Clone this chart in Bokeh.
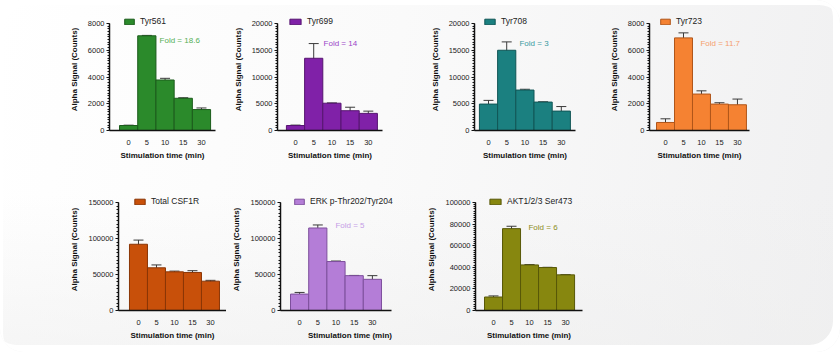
from bokeh.plotting import figure
from bokeh.models import (ColumnDataSource, Whisker, TeeHead, Label, Legend,
                          LegendItem, FixedTicker, NumeralTickFormatter, Range1d)
from bokeh.layouts import row, column
from bokeh.embed import file_html
from bokeh.resources import INLINE

# ---------------- data ----------------
times = ["0", "5", "10", "15", "30"]

tyr561_mean = [373, 7080, 3776, 2410, 1565]
tyr561_err = [25, 30, 125, 40, 120]

tyr699_mean = [930, 13500, 5100, 3700, 3200]
tyr699_err = [80, 2750, 60, 650, 420]

tyr708_mean = [4940, 15000, 7560, 5310, 3625]
tyr708_err = [690, 1560, 150, 60, 850]

tyr723_mean = [600, 6925, 2725, 1975, 1925]
tyr723_err = [275, 375, 240, 100, 425]

csf1r_mean = [92000, 59300, 53700, 52800, 40700]
csf1r_err = [5800, 4000, 1000, 2500, 1200]

erk_mean = [22800, 114600, 68000, 48400, 43300]
erk_err = [2300, 4200, 700, 300, 5100]

akt_mean = [12500, 75800, 42200, 39800, 33000]
akt_err = [1000, 2200, 300, 200, 200]

names = ["Tyr561", "Tyr699", "Tyr708", "Tyr723", "Total CSF1R",
         "ERK p-Thr202/Tyr204", "AKT1/2/3 Ser473"]
folds = ["Fold = 18.6", "Fold = 14", "Fold = 3", "Fold = 11.7", None,
         "Fold = 5", "Fold = 6"]
y_max = [8000, 20000, 20000, 8000, 150000, 150000, 100000]
y_step = [2000, 5000, 5000, 2000, 50000, 50000, 20000]

FONT = "Liberation Sans"


def make_panel(name, means, errs, fill, line, fold, fold_color, fold_xy,
               ymax, ystep, xr, x_end, width, height, borders, axis_h,
               leg_loc, glyph_w):
    bl, br, bt, bb = borders
    frame_h = height - bt - bb
    y_end = ymax * frame_h / axis_h  # headroom above the axis top for the legend
    p = figure(width=width, height=height, output_backend="svg",
               toolbar_location=None, tools="",
               x_range=Range1d(*xr), y_range=Range1d(0, y_end),
               min_border_left=bl, min_border_right=br,
               min_border_top=bt, min_border_bottom=bb,
               background_fill_color=None, border_fill_color=None,
               outline_line_color=None)
    p.grid.visible = False
    xs = list(range(len(times)))
    src = ColumnDataSource(dict(
        x=xs, top=means,
        upper=[m + e for m, e in zip(means, errs)],
        lower=[m - e for m, e in zip(means, errs)]))
    bars = p.vbar(x="x", top="top", width=1.0, source=src,
                  fill_color=fill, line_color=line, line_width=1)
    w = Whisker(base="x", upper="upper", lower="lower", source=src,
                line_color="#3a3a3a", line_width=1,
                upper_head=TeeHead(size=10, line_color="#3a3a3a", line_width=1),
                lower_head=TeeHead(size=10, line_color="#3a3a3a", line_width=1))
    p.add_layout(w)

    # y axis
    majors = list(range(0, ymax + 1, ystep))
    minors = [v * ystep / 10 for v in range(0, int(ymax / ystep * 10) + 1)]
    ya = p.yaxis[0]
    ya.bounds = (0, ymax)
    ya.ticker = FixedTicker(ticks=majors, minor_ticks=minors)
    ya.formatter = NumeralTickFormatter(format="0")
    ya.axis_label = "Alpha Signal (Counts)"
    ya.axis_label_text_font = FONT
    ya.axis_label_text_font_style = "bold"
    ya.axis_label_text_font_size = "8px"
    ya.axis_label_text_color = "#111111"
    ya.axis_label_standoff = 6
    ya.major_label_text_font = FONT
    ya.major_label_text_font_size = "7.5px"
    ya.major_label_text_color = "#222222"
    ya.major_label_standoff = 2
    ya.axis_line_color = "#111111"
    ya.axis_line_width = 1.5
    ya.major_tick_line_color = "#111111"
    ya.major_tick_out = 3
    ya.major_tick_in = 0
    ya.minor_tick_line_color = "#111111"
    ya.minor_tick_out = 2
    ya.minor_tick_in = 0

    # x axis
    xa = p.xaxis[0]
    xa.bounds = (xr[0], x_end)
    xa.ticker = FixedTicker(ticks=xs, minor_ticks=[])
    xa.major_label_overrides = {i: t for i, t in enumerate(times)}
    xa.axis_label = "Stimulation time (min)"
    xa.axis_label_text_font = FONT
    xa.axis_label_text_font_style = "bold"
    xa.axis_label_text_font_size = "8px"
    xa.axis_label_text_color = "#111111"
    xa.axis_label_standoff = 3
    xa.major_label_text_font = FONT
    xa.major_label_text_font_size = "7.5px"
    xa.major_label_text_color = "#222222"
    xa.major_label_standoff = 3
    xa.axis_line_color = "#111111"
    xa.axis_line_width = 1.5
    xa.major_tick_line_color = None
    xa.minor_tick_line_color = None

    leg = Legend(items=[LegendItem(label=name, renderers=[bars])],
                 location=leg_loc, padding=0, margin=0, spacing=0,
                 glyph_width=glyph_w, glyph_height=7, label_standoff=5,
                 label_height=10, label_width=10,
                 label_text_font=FONT, label_text_font_size="8.5px",
                 label_text_color="#222222",
                 background_fill_alpha=0, border_line_color=None)
    p.add_layout(leg)

    if fold:
        p.add_layout(Label(x=fold_xy[0], y=fold_xy[1], text=fold,
                           text_color=fold_color, text_font=FONT,
                           text_font_size="8px", text_baseline="middle"))
    return p


# row 1: frame top at y=8 px, axis top (ymax) at y=23 px, bottom at 130 px
p1 = make_panel(names[0], tyr561_mean, tyr561_err, "#2b8a2b", "#1c5c1c",
                folds[0], "#55b055", (1.7, 6730), y_max[0], y_step[0],
                (-1.05, 4.77), 4.77, 222, 175, (109, 7, 8, 45), 107, (14, 104), 12)
p2 = make_panel(names[1], tyr699_mean, tyr699_err, "#8021a8", "#561570",
                folds[1], "#9a45c8", (1.54, 16260), y_max[1], y_step[1],
                (-0.99, 4.78), 4.78, 197, 175, (55, 37, 8, 45), 107, (11, 104), 14)
p3 = make_panel(names[2], tyr708_mean, tyr708_err, "#1b8080", "#115656",
                folds[2], "#3a9a9f", (1.70, 16260), y_max[2], y_step[2],
                (-0.77, 4.78), 4.78, 175, 175, (55, 19, 8, 45), 107, (9, 104), 13)
p4 = make_panel(names[3], tyr723_mean, tyr723_err, "#f58232", "#b0561a",
                folds[3], "#f5a06c", (1.94, 6500), y_max[3], y_step[3],
                (-0.89, 4.67), 4.67, 246, 175, (55, 91, 8, 45), 107, (10, 104), 12)
# row 2: frame top at y=188 px, axis top at y=202 px, bottom at 310 px
p5 = make_panel(names[4], csf1r_mean, csf1r_err, "#c8500a", "#8a3606",
                folds[4], None, None, y_max[4], y_step[4],
                (-1.11, 4.89), 4.89, 226, 177, (118, 0, 13, 42), 108, (15, 104), 13)
p6 = make_panel(names[5], erk_mean, erk_err, "#b47dd7", "#7d4f9c",
                folds[5], "#c59de6", (1.97, 117760), y_max[5], y_step[5],
                (-1.05, 6.59), 5.05, 193, 177, (54, 0, 13, 42), 108, (13, 104), 12)
p7 = make_panel(names[6], akt_mean, akt_err, "#87870f", "#585808",
                folds[6], "#8c8c22", (1.94, 77060), y_max[6], y_step[6],
                (-1.0, 4.94), 4.94, 421, 177, (56, 258, 13, 42), 108, (13, 104), 14)

layout = column(
    row(p1, p2, p3, p4, spacing=0),
    row(p5, p6, p7, spacing=0),
    spacing=0,
    styles={
        "background": "linear-gradient(to top, rgba(238,238,238,0.55), rgba(255,255,255,0) 45%), "
                      "linear-gradient(100deg, #ffffff 0%, #fafafa 45%, #f0f0f1 100%)",
        "border-radius": "24px",
        "box-shadow": "inset 3px 5px 0 0 #ffffff, inset -7px -7px 0 0 #ffffff",
    },
)

open("out.html", "w").write(file_html(layout, INLINE))
